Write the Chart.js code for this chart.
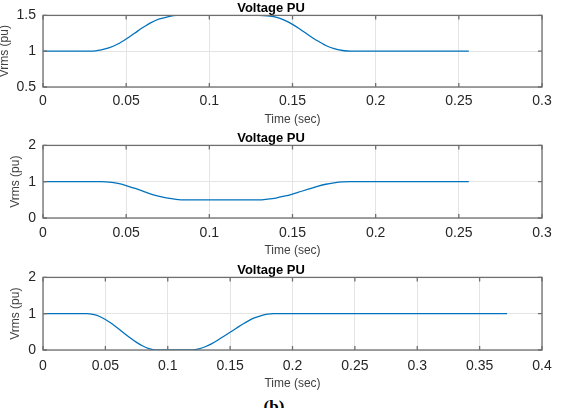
<!DOCTYPE html>
<html>
<head>
<meta charset="utf-8">
<script src="https://cdn.jsdelivr.net/npm/chart.js@4.4.1/dist/chart.umd.min.js"></script>
<style>
  body { margin: 0; background: #fff; width: 561px; height: 408px; overflow: hidden; position: relative; }
  .panel { position: absolute; left: 0; width: 561px; height: 130px; }
  #cap { position: absolute; top: 398px; left: 0; width: 548px; text-align: center;
         font: bold 17px 'Liberation Serif', serif; line-height: 1; color: #000; }
</style>
</head>
<body>
<div class="panel" style="top:0"><canvas id="c1" width="561" height="130"></canvas></div>
<div class="panel" style="top:130px"><canvas id="c2" width="561" height="130"></canvas></div>
<div class="panel" style="top:262px"><canvas id="c3" width="561" height="130"></canvas></div>
<div id="cap">(b)</div>
<script>
  // Swell
  const time1 = [0, 0.03, 0.035, 0.04, 0.045, 0.05, 0.055, 0.06, 0.065, 0.07, 0.075, 0.08,
                 0.13, 0.135, 0.14, 0.145, 0.15, 0.155, 0.16, 0.165, 0.17, 0.175, 0.18, 0.185, 0.256];
  const volt1 = [1, 1, 1.02, 1.05, 1.10, 1.17, 1.25, 1.33, 1.40, 1.45, 1.48, 1.5,
                 1.5, 1.495, 1.475, 1.435, 1.375, 1.30, 1.22, 1.145, 1.08, 1.035, 1.01, 1.0, 1.0];

  // Sag
  const time2 = [0, 0.035, 0.04, 0.045, 0.05, 0.055, 0.06, 0.065, 0.07, 0.075, 0.08, 0.085,
                 0.13, 0.135, 0.14, 0.145, 0.15, 0.155, 0.16, 0.165, 0.17, 0.175, 0.18, 0.185, 0.256];
  const volt2 = [1, 1, 0.99, 0.955, 0.895, 0.82, 0.74, 0.66, 0.595, 0.545, 0.515, 0.5,
                 0.5, 0.52, 0.55, 0.60, 0.66, 0.73, 0.80, 0.87, 0.93, 0.97, 0.995, 1.0, 1.0];

  // Interruption
  const time3 = [0, 0.035, 0.04, 0.045, 0.05, 0.055, 0.06, 0.065, 0.07, 0.075, 0.08, 0.085, 0.09,
                 0.12, 0.125, 0.13, 0.135, 0.14, 0.145, 0.15, 0.155, 0.16, 0.165, 0.17, 0.175, 0.18, 0.185, 0.372];
  const volt3 = [1, 1, 0.98, 0.93, 0.84, 0.73, 0.60, 0.46, 0.33, 0.21, 0.11, 0.04, 0.0,
                 0.0, 0.03, 0.09, 0.17, 0.27, 0.38, 0.49, 0.60, 0.71, 0.81, 0.89, 0.95, 0.99, 1.0, 1.0];

  const yTicks1 = [0.5, 1, 1.5];
  const yTicks23 = [0, 1, 2];

  // box round the plot area with inward tick marks, like the original
  const boxPlugin = {
    id: 'box',
    afterDatasetsDraw(chart) {
      const { ctx, chartArea: a, scales: { x, y } } = chart;
      ctx.save();
      ctx.strokeStyle = '#6f6f6f';
      ctx.lineWidth = 1.3;
      ctx.strokeRect(a.left, a.top, a.right - a.left, a.bottom - a.top);
      ctx.beginPath();
      x.ticks.forEach(t => {
        const px = x.getPixelForValue(t.value);
        ctx.moveTo(px, a.bottom); ctx.lineTo(px, a.bottom - 4);
        ctx.moveTo(px, a.top); ctx.lineTo(px, a.top + 4);
      });
      y.ticks.forEach(t => {
        const py = y.getPixelForValue(t.value);
        ctx.moveTo(a.left, py); ctx.lineTo(a.left + 4, py);
        ctx.moveTo(a.right, py); ctx.lineTo(a.right - 4, py);
      });
      ctx.stroke();
      ctx.restore();
    }
  };

  function makeChart(id, times, volts, o) {
    const ctx = document.getElementById(id).getContext('2d');
    return new Chart(ctx, {
      type: 'line',
      data: {
        datasets: [{
          data: times.map((t, i) => ({ x: t, y: volts[i] })),
          borderColor: '#0072BD',
          borderWidth: 1.3,
          pointRadius: 0,
          cubicInterpolationMode: 'monotone',
          fill: false
        }]
      },
      options: {
        responsive: false,
        animation: false,
        layout: { padding: { left: 0, right: 19, top: 0, bottom: 0 } },
        plugins: {
          legend: { display: false },
          tooltip: { enabled: false },
          title: {
            display: true,
            text: 'Voltage PU',
            color: '#000',
            font: { family: 'Liberation Sans', size: 13, weight: 'bold', lineHeight: 1.15 },
            padding: { top: 0, bottom: 0 }
          }
        },
        scales: {
          x: {
            type: 'linear',
            min: 0,
            max: o.xMax,
            afterFit: s => { s.height = o.xh; },
            grid: { color: '#e4e4e4', drawTicks: false },
            border: { display: false },
            ticks: {
              stepSize: 0.05,
              padding: o.xPad,
              color: '#262626',
              font: { family: 'Liberation Sans', size: 14 },
              maxRotation: 0,
              autoSkip: false,
              callback: v => String(+v.toFixed(3))
            },
            title: {
              display: true,
              text: 'Time (sec)',
              color: '#404040',
              font: { family: 'Liberation Sans', size: 12, lineHeight: 1 },
              padding: { top: 0, bottom: o.xtPad }
            }
          },
          y: {
            min: o.yTicks[0],
            max: o.yTicks[o.yTicks.length - 1],
            afterFit: s => { s.width = 43; },
            afterBuildTicks: s => { s.ticks = o.yTicks.map(v => ({ value: v })); },
            grid: { color: '#e4e4e4', drawTicks: false },
            border: { display: false },
            ticks: {
              padding: 7,
              color: '#262626',
              font: { family: 'Liberation Sans', size: 14 },
              callback: v => String(v)
            },
            title: {
              display: true,
              text: 'Vrms (pu)',
              color: '#404040',
              font: { family: 'Liberation Sans', size: 12, lineHeight: 1 },
              padding: { top: o.ytPad, bottom: 0 }
            }
          }
        }
      },
      plugins: [boxPlugin]
    });
  }

  makeChart('c1', time1, volt1, { xMax: 0.3, yTicks: yTicks1, xh: 43, xPad: 6, xtPad: 4, ytPad: -1 });
  makeChart('c2', time2, volt2, { xMax: 0.3, yTicks: yTicks23, xh: 42, xPad: 7, xtPad: 3, ytPad: 10 });
  makeChart('c3', time3, volt3, { xMax: 0.4, yTicks: yTicks23, xh: 42, xPad: 7.5, xtPad: 2, ytPad: 10 });
</script>
</body>
</html>
